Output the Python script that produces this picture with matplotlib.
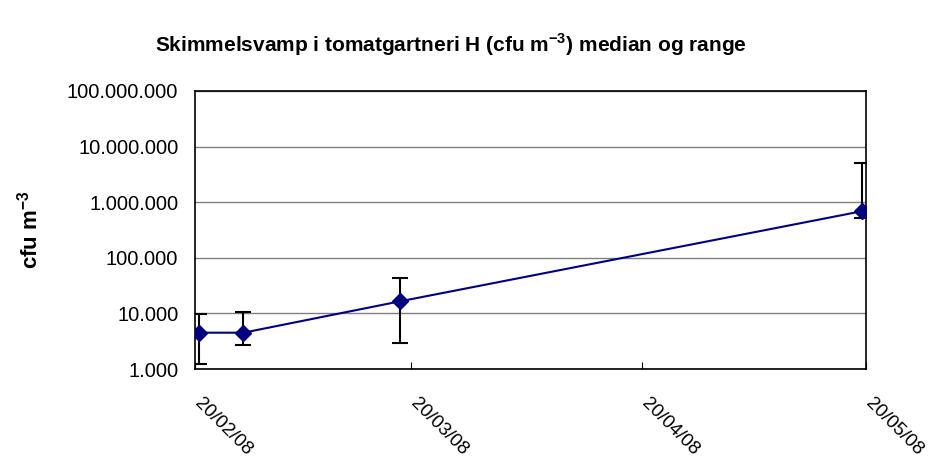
import matplotlib
matplotlib.use("Agg")
import matplotlib.pyplot as plt
import matplotlib.dates as mdates
import matplotlib.transforms as mtransforms
from matplotlib.ticker import FuncFormatter, LogLocator, NullLocator
import numpy as np
import pandas as pd

plt.rcParams['font.family'] = ['Liberation Sans', 'DejaVu Sans']
plt.rcParams['mathtext.fontset'] = 'custom'
plt.rcParams['mathtext.rm'] = 'Liberation Sans'
plt.rcParams['mathtext.bf'] = 'Liberation Sans:bold'

# Sampling dates and spore counts (cfu per m3): median with min/max range
dates = ["2008-02-20", "2008-02-26", "2008-03-18", "2008-05-19"]
median = [4500, 4500, 16500, 690000]
low = [1250, 2700, 2900, 530000]
high = [9800, 10700, 43000, 5000000]

tick_dates = ["2008-02-20", "2008-03-20", "2008-04-20", "2008-05-20"]

x = pd.to_datetime(dates) + pd.Timedelta(hours=12)  # points sit mid-day
med = np.array(median)
yerr = [med - np.array(low), np.array(high) - med]

fig = plt.figure(figsize=(9.44, 4.68), dpi=100)
ax = fig.add_axes([0.2066, 0.2115, 0.7108, 0.5941])

ax.errorbar(x, med, yerr=yerr, fmt='none', ecolor='black', elinewidth=1.5,
            capsize=6, capthick=1.5, zorder=3)
ax.plot(x, med, color='#000080', lw=1.5, marker='D', markersize=8.5,
        markerfacecolor='#000080', markeredgecolor='#000080', zorder=4)

ax.set_yscale('log')
ax.set_ylim(1000, 1e8)
ax.yaxis.set_major_locator(LogLocator(base=10))
ax.yaxis.set_minor_locator(NullLocator())
ax.yaxis.set_major_formatter(FuncFormatter(lambda v, p: f"{int(round(v)):,}".replace(",", ".")))
ax.grid(axis='y', color='#808080', lw=1)
ax.set_axisbelow(True)

ax.set_xlim(pd.Timestamp(tick_dates[0]), pd.Timestamp(tick_dates[-1]))
ax.set_xticks(pd.to_datetime(tick_dates))
ax.xaxis.set_major_formatter(mdates.DateFormatter('%d/%m/%y'))

ax.tick_params(axis='y', length=0, labelsize=14.5, pad=12)
ax.tick_params(axis='x', direction='in', length=5, labelsize=13.5, pad=14)
shift = mtransforms.ScaledTranslation(8 / 100, -6 / 100, fig.dpi_scale_trans)
for lbl in ax.get_xticklabels():
    lbl.set_rotation(-45)
    lbl.set_rotation_mode('anchor')
    lbl.set_ha('left')
    lbl.set_va('top')
    lbl.set_transform(lbl.get_transform() + shift)

for s in ax.spines.values():
    s.set_color('black')
    s.set_linewidth(1.2)

ax.set_ylabel(r"cfu m$^\mathbf{-3}$", fontsize=16, fontweight='bold')
ax.yaxis.set_label_coords(-0.228, 0.5)

fig.text(0.478, 0.904, r"Skimmelsvamp i tomatgartneri H (cfu m$^\mathbf{-3}$) median og range",
         ha='center', va='center', fontsize=15, fontweight='bold')

fig.savefig("out.png", dpi=100)
